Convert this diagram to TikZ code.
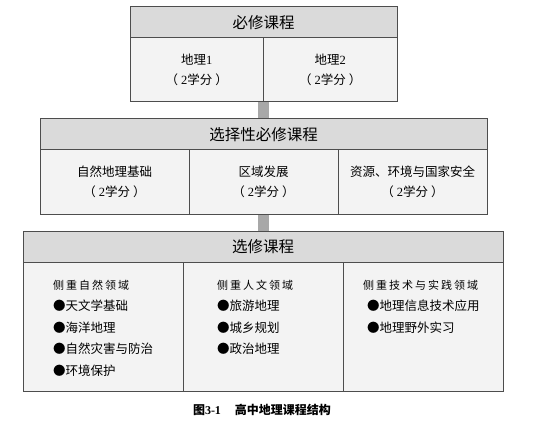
\documentclass[tikz,border=0pt]{standalone}
\usepackage{fontspec}
\usepackage{tikz}
\usetikzlibrary{positioning}
\setmainfont{Noto Sans CJK SC}
\newfontfamily\latfont{Liberation Serif}
\newfontfamily\tagfont[LetterSpace=18]{Noto Sans CJK SC}
\definecolor{boxLine}  {HTML}{4D4D4D}
\definecolor{headFill} {HTML}{DADADA}
\definecolor{cellFill} {HTML}{F3F3F3}
\definecolor{linkGray} {HTML}{A8A8A8}
\newcommand{\lat}[1]{{\latfont #1}}
\newcommand{\credit}{（\hspace{3pt}\lat{2}学分\hspace{3pt}）}
\tikzset{
  head/.style={draw=boxLine, fill=headFill, line width=1pt, inner sep=0pt,
    outer sep=0pt, anchor=north west, minimum height=31pt,
    font=\fontsize{15.5}{18}\selectfont},
  cell/.style={draw=boxLine, fill=cellFill, line width=1pt, inner sep=0pt,
    outer sep=0pt, anchor=north west, align=center,
    font=\fontsize{12.5}{20}\selectfont},
  itemlist/.style={anchor=north west, align=left, inner sep=0pt,
    font=\fontsize{12.5}{21.4}\selectfont},
  link/.style={linkGray, line width=11pt},
}

\begin{document}
\begin{tikzpicture}[x=1pt, y=-1pt]
  \useasboundingbox[fill=white] (0,0) rectangle (533,433);

  % grey bars between the three levels
  \draw[link] (263.5,102) -- (263.5,119);
  \draw[link] (263.5,215) -- (263.5,231);

  % compulsory
  \node[head, minimum width=267pt] (req) at (130,7) {必修课程};
  \node[cell, minimum width=133.5pt, minimum height=64pt] (req1) at (req.south west)
    {地理\lat{1}\\\credit};
  \node[cell, minimum width=133.5pt, minimum height=64pt, right=0pt of req1] (req2)
    {地理\lat{2}\\\credit};

  % selective compulsory
  \node[head, minimum width=447pt] (sel) at (40,119) {选择性必修课程};
  \node[cell, minimum width=149pt, minimum height=64pt] (sel1) at (sel.south west)
    {自然地理基础\\\credit};
  \node[cell, minimum width=149pt, minimum height=64pt, right=0pt of sel1] (sel2)
    {区域发展\\\credit};
  \node[cell, minimum width=149pt, minimum height=64pt, right=0pt of sel2] (sel3)
    {资源、环境与国家安全\\\credit};

  % elective
  \node[head, minimum width=480pt] (opt) at (23,231) {选修课程};
  \node[cell, minimum width=160pt, minimum height=129pt] (opt1) at (opt.south west) {};
  \node[cell, minimum width=160pt, minimum height=129pt, right=0pt of opt1] (opt2) {};
  \node[cell, minimum width=160pt, minimum height=129pt, right=0pt of opt2] (opt3) {};

  \node[itemlist] (list1) at ([xshift=30pt, yshift=-18pt]opt1.north west)
    {{\tagfont\fontsize{11}{21.4}\selectfont 侧重自然领域}\\
     ●天文学基础\\●海洋地理\\●自然灾害与防治\\●环境保护};
  \node[itemlist] (list2) at ([xshift=34pt, yshift=-18pt]opt2.north west)
    {{\tagfont\fontsize{11}{21.4}\selectfont 侧重人文领域}\\
     ●旅游地理\\●城乡规划\\●政治地理};
  \node[itemlist] (list3) at ([xshift=20pt, yshift=-18pt]opt3.north west)
    {{\tagfont\fontsize{11}{21.4}\selectfont 侧重技术与实践领域}\\
     \hspace{4pt}●地理信息技术应用\\\hspace{4pt}●地理野外实习};

  % caption
  \node[font=\fontsize{12}{14}\selectfont\bfseries] (cap) at (262,410)
    {图\lat{\textbf{3-1}}\hspace{14pt}高中地理课程结构};
\end{tikzpicture}
\end{document}
